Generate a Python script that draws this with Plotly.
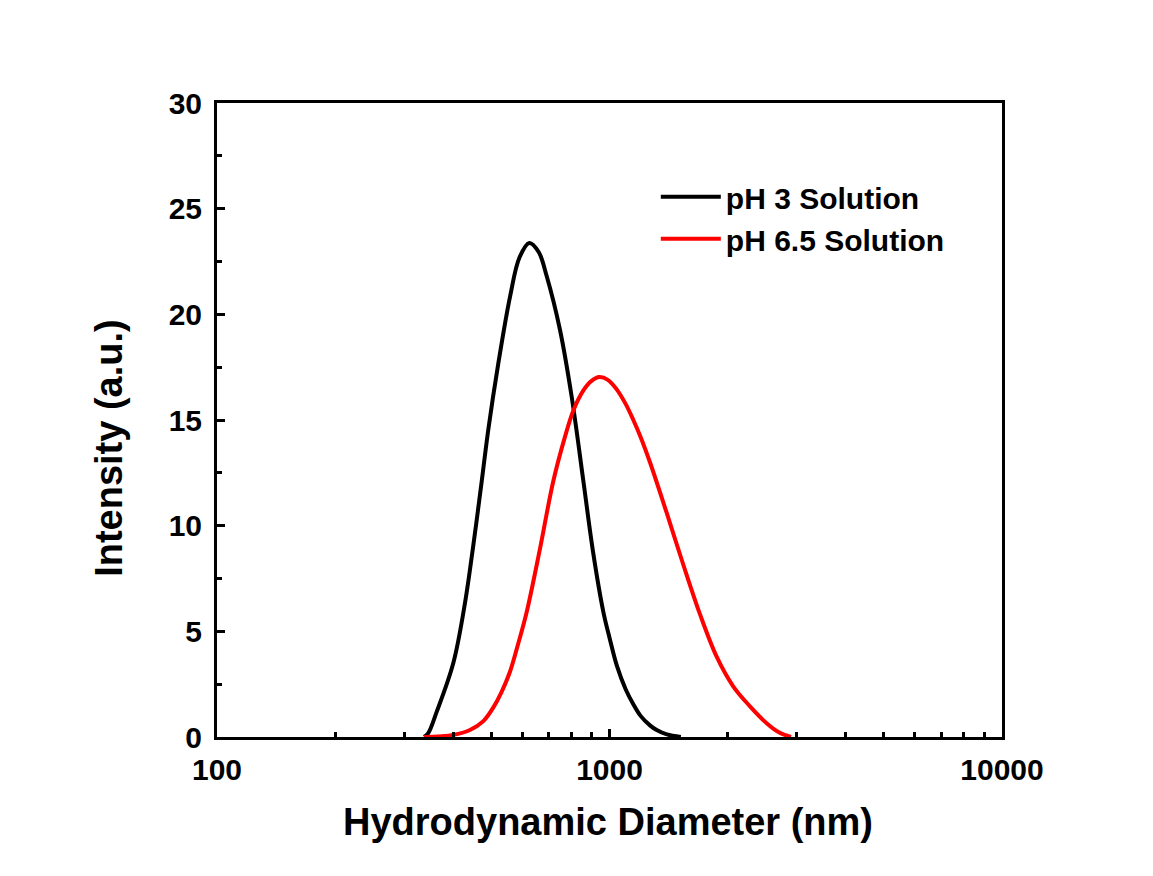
import plotly.graph_objects as go

# Hydrodynamic diameter (nm) and intensity (a.u.)
ph3_diameter = [337, 345, 363, 400, 428, 450, 473, 491, 521, 558, 590, 625, 660, 692,
                748, 801, 858, 909, 965, 1000, 1043, 1100, 1150, 1200, 1268, 1319, 1400, 1520]
ph3_intensity = [0.0, 0.17, 1.2, 3.5, 6.3, 9.1, 12.16, 14.53, 17.69, 20.84, 22.7, 23.38,
                 22.95, 21.8, 19.26, 16.1, 12.1, 8.7, 5.9, 4.7, 3.4, 2.25, 1.55, 1.0, 0.55,
                 0.33, 0.12, 0.0]

ph65_diameter = [337, 400, 441, 477, 506, 530, 558, 585, 615, 665, 719, 770, 809, 858, 900,
                 942, 990, 1043, 1100, 1150, 1200, 1268, 1399, 1542, 1701, 1875, 2066, 2280,
                 2514, 2700, 2900]
ph65_intensity = [0.0, 0.1, 0.33, 0.75, 1.4, 2.1, 3.1, 4.4, 5.9, 8.9, 12.1, 14.2, 15.45, 16.4,
                  16.85, 17.03, 16.9, 16.45, 15.75, 15.0, 14.2, 13.0, 10.6, 8.15, 5.8, 3.8, 2.4,
                  1.45, 0.65, 0.22, 0.0]

series_names = ["pH 3 Solution", "pH 6.5 Solution"]
x_tickvals = [100, 1000, 10000]
x_ticktext = ["100", "1000", "10000"]
y_tickvals = [0, 5, 10, 15, 20, 25, 30]
x_title = "Hydrodynamic Diameter (nm)"
y_title = "Intensity (a.u.)"

FONT = "Liberation Sans, Arial, sans-serif"

fig = go.Figure()
fig.add_trace(go.Scatter(x=ph3_diameter, y=ph3_intensity, mode="lines", name=series_names[0],
                         line=dict(color="black", width=4, shape="spline", smoothing=1.0)))
fig.add_trace(go.Scatter(x=ph65_diameter, y=ph65_intensity, mode="lines", name=series_names[1],
                         line=dict(color="#ff0000", width=4, shape="spline", smoothing=1.0)))

axis_common = dict(showline=True, linecolor="black", linewidth=3, mirror=True,
                   showgrid=False, zeroline=False, ticks="inside", tickcolor="black",
                   tickwidth=2.5, ticklen=8,
                   tickfont=dict(family=FONT, size=30, color="black", weight="bold"))

fig.update_xaxes(type="log", range=[2, 4], tickvals=x_tickvals, ticktext=x_ticktext,
                 minor=dict(ticks="inside", ticklen=5, tickwidth=2.5, tickcolor="black", dtick="D1"),
                 ticklabelstandoff=4,
                 **axis_common)
fig.update_yaxes(range=[0, 30], tickvals=y_tickvals,
                 minor=dict(ticks="inside", ticklen=5, tickwidth=2.5, tickcolor="black", dtick=2.5),
                 ticklabelstandoff=6,
                 **axis_common)

fig.add_annotation(text=x_title, xref="paper", yref="paper", x=0.4975, y=-0.134,
                   xanchor="center", yanchor="middle", showarrow=False,
                   font=dict(family=FONT, size=38, color="black", weight="bold"))
fig.add_annotation(text=y_title, xref="paper", yref="paper", x=-0.1378, y=0.4558,
                   xanchor="center", yanchor="middle", textangle=-90, showarrow=False,
                   font=dict(family=FONT, size=38, color="black", weight="bold"))

fig.update_layout(
    width=1153, height=876,
    margin=dict(l=217, r=151, t=103, b=139),
    paper_bgcolor="white", plot_bgcolor="white",
    showlegend=True,
    legend=dict(x=0.559, y=0.893, xanchor="left", yanchor="top", bgcolor="rgba(0,0,0,0)",
                font=dict(family=FONT, size=30, color="black", weight="bold"),
                tracegroupgap=0, itemwidth=60),
)

fig.write_html("out.html")
